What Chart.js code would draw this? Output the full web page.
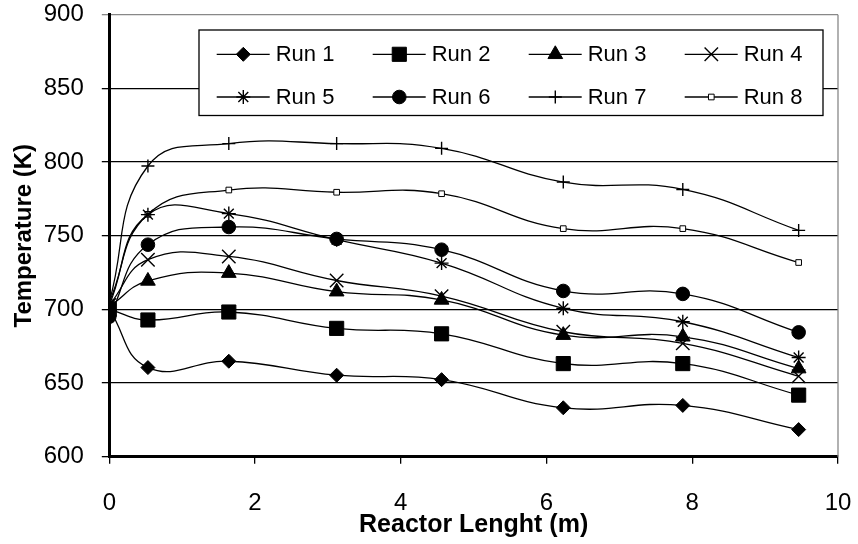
<!DOCTYPE html>
<html><head><meta charset="utf-8">
<script src="https://cdn.jsdelivr.net/npm/chart.js@4"></script>
<style>html,body{margin:0;padding:0;background:#fff}#wrap{width:858px;height:544px;position:relative}</style>
</head>
<body><div id="wrap"><canvas id="c"></canvas></div>
<script>
const positions = [0, 0.53, 1.64, 3.12, 4.56, 6.23, 7.87, 9.46];
const run1 = [700, 660.5, 664.8, 655.3, 652.3, 633.2, 634.8, 618.4];
const run2 = [700, 692.8, 698.2, 687.1, 683.4, 663.2, 663.2, 641.8];
const run3 = [702, 719.3, 724.6, 712.0, 706.4, 682.5, 681.4, 659.8];
const run4 = [703, 733.7, 735.9, 719.6, 709.0, 684.8, 676.9, 654.6];
const run5 = [703, 764.3, 765.0, 747.3, 731.4, 700.7, 691.6, 667.3];
const run6 = [695, 743.9, 755.9, 747.8, 740.5, 712.5, 710.5, 684.4];
const run7 = [705, 797.3, 812.5, 812.5, 809.3, 786.4, 781.4, 753.6];
const run8 = [705, 764.5, 781.0, 779.5, 778.5, 754.8, 754.8, 731.8];
const runLabels = ['Run 1','Run 2','Run 3','Run 4','Run 5','Run 6','Run 7','Run 8'];
const xTicks = [0, 2, 4, 6, 8, 10];
const yTicks = [600, 650, 700, 750, 800, 850, 900];

const allRuns = [run1, run2, run3, run4, run5, run6, run7, run8];
const styles = [
  {pointStyle:'rectRot', radius:7, bg:'#000'},
  {pointStyle:'rect', radius:10, bg:'#000'},
  {pointStyle:'triangle', radius:8.5, bg:'#000'},
  {pointStyle:'crossRot', radius:9.5, bg:'#000'},
  {pointStyle:'star', radius:7, bg:'#000'},
  {pointStyle:'circle', radius:6.8, bg:'#000'},
  {pointStyle:'cross', radius:6.5, bg:'#000'},
  {pointStyle:'rect', radius:4, bg:'#fff'}
];
const FONT = '"Liberation Sans", Arial, sans-serif';

const datasets = allRuns.map((arr, i) => ({
  label: runLabels[i],
  data: positions.map((x, j) => ({x: x, y: arr[j]})),
  borderColor: '#000',
  borderWidth: 1.3,
  backgroundColor: styles[i].bg,
  pointStyle: styles[i].pointStyle,
  pointRadius: styles[i].radius,
  pointBorderColor: '#000',
  pointBackgroundColor: styles[i].bg,
  pointBorderWidth: (['cross','crossRot','star'].includes(styles[i].pointStyle)) ? 1.4 : 1,
  tension: 0.45,
  fill: false
}));

const frameAndLegend = {
  id: 'frameAndLegend',
  afterDraw(chart) {
    const ctx = chart.ctx;
    const a = chart.chartArea;
    ctx.save();
    ctx.strokeStyle = '#888';
    ctx.lineWidth = 1.3;
    ctx.beginPath();
    ctx.moveTo(a.right, a.top);
    ctx.lineTo(a.right, a.bottom);
    ctx.stroke();
    const bx = 199, by = 30, bw = 624, bh = 85.5;
    ctx.fillStyle = '#fff';
    ctx.fillRect(bx, by, bw, bh);
    ctx.strokeStyle = '#000';
    ctx.lineWidth = 1.3;
    ctx.strokeRect(bx, by, bw, bh);
    const colX = [216.7, 372.7, 528.7, 684.7];
    const rowY = [54.3, 97];
    ctx.font = '22px ' + FONT;
    ctx.textBaseline = 'middle';
    ctx.textAlign = 'left';
    chart.data.datasets.forEach((ds, i) => {
      const cx = colX[i % 4], cy = rowY[Math.floor(i / 4)];
      ctx.strokeStyle = '#000';
      ctx.lineWidth = 1.3;
      ctx.beginPath();
      ctx.moveTo(cx, cy);
      ctx.lineTo(cx + 53, cy);
      ctx.stroke();
      ctx.fillStyle = ds.pointBackgroundColor;
      ctx.strokeStyle = '#000';
      ctx.lineWidth = ds.pointBorderWidth;
      Chart.helpers.drawPoint(ctx, {pointStyle: ds.pointStyle, radius: ds.pointRadius, rotation: 0, borderWidth: ds.pointBorderWidth}, cx + 26.6, cy);
      ctx.fillStyle = '#000';
      ctx.fillText(ds.label, cx + 59, cy + 1);
    });
    ctx.restore();
  }
};

new Chart(document.getElementById('c'), {
  type: 'line',
  data: { datasets: datasets },
  options: {
    responsive: true,
    maintainAspectRatio: false,
    animation: false,
    layout: { padding: { top: 14.7, right: 20, left: 0, bottom: 0 } },
    plugins: { legend: { display: false }, tooltip: { enabled: false } },
    scales: {
      x: {
        type: 'linear', min: 0, max: 10,
        afterFit(s) { s.height = 87.3; s.paddingLeft = 0; s.paddingRight = 0; },
        afterBuildTicks(s) { s.ticks = xTicks.map(v => ({value: v})); },
        border: { display: true, color: '#000', width: 3 },
        grid: { drawOnChartArea: false, drawTicks: true, tickLength: 7, color: '#000', lineWidth: 1.3 },
        ticks: { color: '#000', padding: 25, maxRotation: 0, font: { family: FONT, size: 24 } },
        title: { display: true, text: 'Reactor Lenght (m)', color: '#000', padding: { top: 0, bottom: 4 }, font: { family: FONT, size: 25, weight: 'bold' } }
      },
      y: {
        type: 'linear', min: 600, max: 900,
        afterFit(s) { s.width = 109.3; s.paddingTop = 0; s.paddingBottom = 0; },
        afterBuildTicks(s) { s.ticks = yTicks.map(v => ({value: v})); },
        border: { display: true, color: '#000', width: 3 },
        grid: { drawTicks: true, tickLength: 7.5, color: (c) => (c.tick && c.tick.value === 900) ? '#888' : '#000', lineWidth: 1.3 },
        ticks: { color: '#000', padding: 18, font: { family: FONT, size: 24 } },
        title: { display: true, text: 'Temperature (K)', color: '#000', padding: { top: 10, bottom: 0 }, font: { family: FONT, size: 24, weight: 'bold' } }
      }
    }
  },
  plugins: [frameAndLegend]
});
</script>
</body></html>
